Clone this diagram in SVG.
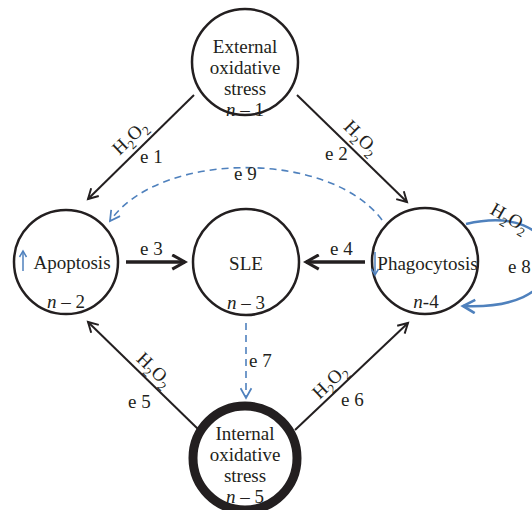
<svg xmlns="http://www.w3.org/2000/svg" width="532" height="510" viewBox="0 0 532 510">
<style>
text{font-family:"Liberation Serif","DejaVu Serif",serif;fill:#231f20}
.nt{font-size:19px;text-anchor:middle}
.lb{font-size:19px}
.h{text-anchor:middle}
.s{font-size:13px}
.c{fill:#fff;stroke:#231f20;stroke-width:2.5}
.e{stroke:#231f20;stroke-width:2;fill:none}
.eb{stroke:#231f20;stroke-width:3.5;fill:none}
.bd{stroke:#4f81bd;stroke-width:1.6;fill:none;stroke-dasharray:7 5}
.bl{stroke:#4f81bd;stroke-width:2.5;fill:none}
</style>
<defs>
<marker id="ah" viewBox="0 0 12 12" refX="10" refY="6" markerWidth="13" markerHeight="13" markerUnits="userSpaceOnUse" orient="auto"><path d="M1,1 L10,6 L1,11" fill="none" stroke="#231f20" stroke-width="1.8"/></marker>
<marker id="ahb" viewBox="0 0 12 12" refX="10" refY="6" markerWidth="17" markerHeight="17" markerUnits="userSpaceOnUse" orient="auto"><path d="M1,1 L10,6 L1,11" fill="none" stroke="#231f20" stroke-width="2.2"/></marker>
<marker id="ahl" viewBox="0 0 12 12" refX="10" refY="6" markerWidth="13" markerHeight="13" markerUnits="userSpaceOnUse" orient="auto"><path d="M1,1 L10,6 L1,11" fill="none" stroke="#4f81bd" stroke-width="1.6"/></marker>
<marker id="ahl2" viewBox="0 0 12 12" refX="10" refY="6" markerWidth="16" markerHeight="16" markerUnits="userSpaceOnUse" orient="auto"><path d="M1,1 L10,6 L1,11" fill="none" stroke="#4f81bd" stroke-width="2"/></marker>
</defs>
<g id="connectors">
<line class="e" x1="194" y1="95" x2="88" y2="199" marker-end="url(#ah)"/>
<line class="e" x1="297" y1="95" x2="407" y2="202" marker-end="url(#ah)"/>
<line class="eb" x1="126" y1="262" x2="185" y2="262" marker-end="url(#ahb)"/>
<line class="eb" x1="365" y1="262" x2="306" y2="262" marker-end="url(#ahb)"/>
<line class="e" x1="199" y1="430" x2="88" y2="322" marker-end="url(#ah)"/>
<line class="e" x1="295" y1="430" x2="408" y2="323" marker-end="url(#ah)"/>
<line class="bd" x1="246" y1="323" x2="246" y2="398" marker-end="url(#ahl)"/>
<path class="bd" d="M382,220 C330,150 160,150 110,221" marker-end="url(#ahl)"/>
<path class="bl" d="M466,224 C510,214 548,225 548,262 C548,295 510,308 463,306" marker-end="url(#ahl2)"/>
<g class="lb">
<text class="h" transform="translate(134,142) rotate(-44)">H<tspan class="s" dy="5">2</tspan><tspan dy="-5">O</tspan><tspan class="s" dy="5">2</tspan></text>
<text x="140" y="163">e 1</text>
<text class="h" transform="translate(357,142) rotate(45)">H<tspan class="s" dy="5">2</tspan><tspan dy="-5">O</tspan><tspan class="s" dy="5">2</tspan></text>
<text x="325" y="160">e 2</text>
<text x="234" y="180">e 9</text>
<text x="140" y="255">e 3</text>
<text x="330" y="255">e 4</text>
<text x="249" y="367">e 7</text>
<text class="h" transform="translate(150,374) rotate(44)">H<tspan class="s" dy="5">2</tspan><tspan dy="-5">O</tspan><tspan class="s" dy="5">2</tspan></text>
<text x="128" y="408">e 5</text>
<text class="h" transform="translate(334,386) rotate(-44)">H<tspan class="s" dy="5">2</tspan><tspan dy="-5">O</tspan><tspan class="s" dy="5">2</tspan></text>
<text x="341" y="406">e 6</text>
<text transform="translate(489,213) rotate(30)">H<tspan class="s" dy="5">2</tspan><tspan dy="-5">O</tspan><tspan class="s" dy="5">2</tspan></text>
<text x="508" y="273">e 8</text>
</g>
</g>
<g id="n1">
<circle class="c" cx="245" cy="62" r="53"/>
<text class="nt" x="245" y="53">External</text>
<text class="nt" x="245" y="74">oxidative</text>
<text class="nt" x="245" y="95">stress</text>
<text class="nt" x="245" y="116"><tspan font-style="italic">n</tspan> – 1</text>
</g>
<g id="n2">
<circle class="c" cx="66" cy="262" r="52"/>
<text class="nt" x="72" y="269" font-size="20">Apoptosis</text>
<line x1="23" y1="271" x2="23" y2="252" stroke="#4f81bd" stroke-width="1.5"/>
<path d="M19.5,257 L23,251 L26.5,257" fill="none" stroke="#4f81bd" stroke-width="1.5"/>
<text class="nt" x="66" y="308"><tspan font-style="italic">n</tspan> – 2</text>
</g>
<g id="n3">
<circle class="c" cx="246" cy="262" r="53"/>
<text class="nt" x="246" y="270">SLE</text>
<text class="nt" x="246" y="309"><tspan font-style="italic">n</tspan> – 3</text>
</g>
<g id="n4">
<circle class="c" cx="425" cy="261" r="53"/>
<text class="nt" x="427.5" y="270" font-size="17.5">Phagocytosis</text>
<line x1="375" y1="252" x2="375" y2="274" stroke="#4f81bd" stroke-width="1.5"/>
<path d="M371.5,269 L375,275 L378.5,269" fill="none" stroke="#4f81bd" stroke-width="1.5"/>
<text class="nt" x="426" y="308"><tspan font-style="italic">n</tspan>-4</text>
</g>
<g id="n5">
<circle cx="245" cy="458" r="52" fill="#fff" stroke="#231f20" stroke-width="9"/>
<text class="nt" x="245" y="440">Internal</text>
<text class="nt" x="245" y="461">oxidative</text>
<text class="nt" x="245" y="482">stress</text>
<text class="nt" x="245" y="503"><tspan font-style="italic">n</tspan> – 5</text>
</g>
</svg>
